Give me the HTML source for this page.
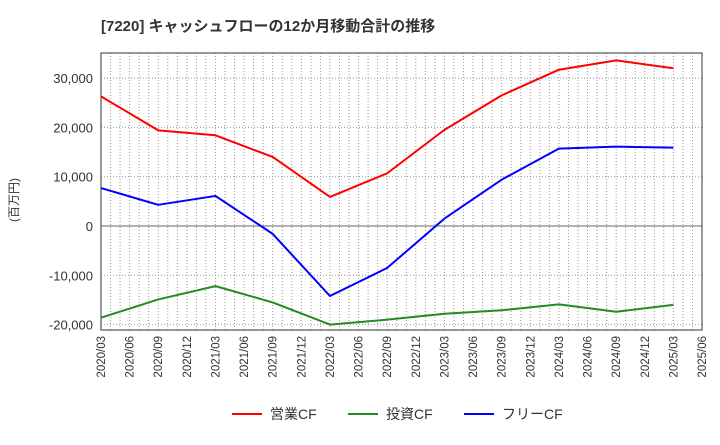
<!DOCTYPE html>
<html><head><meta charset="utf-8"><style>
body{margin:0;background:#fff;font-family:"Liberation Sans","Noto Sans CJK JP",sans-serif;}
</style></head><body>
<svg id="c" width="720" height="440" xmlns="http://www.w3.org/2000/svg">
<text x="101" y="31" font-size="15" font-weight="bold" fill="#333" font-family="Liberation Sans, Noto Sans CJK JP, sans-serif">[7220]  キャッシュフローの12か月移動合計の推移</text>
<text transform="translate(18,200) rotate(-90)" font-size="12" fill="#333" text-anchor="middle" font-family="Liberation Sans, Noto Sans CJK JP, sans-serif">(百万円)</text>
<g id="grid"></g><g id="axes"></g><g id="lines"></g>
<g font-size="14" fill="#333" font-family="Liberation Sans, Noto Sans CJK JP, sans-serif">
<g><line x1="232" y1="414" x2="262" y2="414" stroke="#f00" stroke-width="2"/><text x="270" y="419">営業CF</text></g>
<g><line x1="348" y1="414" x2="378" y2="414" stroke="#228b22" stroke-width="2"/><text x="386" y="419">投資CF</text></g>
<g><line x1="464" y1="414" x2="494" y2="414" stroke="#00f" stroke-width="2"/><text x="502" y="419">フリーCF</text></g>
</g>
</svg>
<script>
const categories=["2020/03","2020/09","2021/03","2021/09","2022/03","2022/09","2023/03","2023/09","2024/03","2024/09","2025/03"];
const operatingCF=[26300,19400,18400,14000,5900,10700,19500,26500,31700,33600,32000];
const investingCF=[-18600,-14900,-12200,-15500,-20000,-19000,-17800,-17100,-15900,-17400,-16000];
const freeCF=[7700,4300,6100,-1600,-14200,-8500,1500,9400,15700,16100,15900];
const xTickLabels=["2020/03","2020/06","2020/09","2020/12","2021/03","2021/06","2021/09","2021/12","2022/03","2022/06","2022/09","2022/12","2023/03","2023/06","2023/09","2023/12","2024/03","2024/06","2024/09","2024/12","2025/03","2025/06"];
const yTicks=[-20000,-10000,0,10000,20000,30000];
const NS="http://www.w3.org/2000/svg";
const L=101,R=702,T=53,B=330;
function qIndex(s){const [y,m]=s.split("/").map(Number);return (y-2020)*12+(m-3);}
function X(s){return L+qIndex(s)*(R-L)/63;}
function Y(v){return 226-v*49.3/10000;}
function mk(tag,attrs,parent){const e=document.createElementNS(NS,tag);for(const k in attrs)e.setAttribute(k,attrs[k]);parent.appendChild(e);return e;}
const grid=document.getElementById("grid"),axes=document.getElementById("axes"),lines=document.getElementById("lines");
for(let m=1;m<63;m++){const x=L+m*(R-L)/63;const g=mk("line",{x1:x,x2:x,y1:T,y2:B,stroke:"#999","stroke-dasharray":"1,2","stroke-width":1},grid);

}
yTicks.forEach(v=>{const y=Y(v);const g=mk("line",{x1:L,x2:R,y1:y,y2:y,stroke:v===0?"#666":"#999","stroke-dasharray":v===0?"":"1,2","stroke-width":1},grid);


const t=mk("text",{x:L-8,y:y+5,"text-anchor":"end","font-size":13,fill:"#333"},axes);t.textContent=v.toLocaleString("en-US");

});
const frame=mk("rect",{x:L,y:T,width:R-L,height:B-T,fill:"none",stroke:"#333","stroke-width":1},axes);


xTickLabels.forEach(s=>{const x=X(s);const t=mk("text",{transform:`translate(${x+4},${B+6}) rotate(-90)`,"text-anchor":"end","font-size":11.5,fill:"#333"},axes);t.textContent=s;

});
[[operatingCF,"#f00","operating-cf-line"],[investingCF,"#228b22","investing-cf-line"],[freeCF,"#00f","free-cf-line"]].forEach(([d,c,n])=>{
const p=mk("polyline",{points:d.map((v,i)=>X(categories[i])+","+Y(v)).join(" "),fill:"none",stroke:c,"stroke-width":2,"stroke-linejoin":"round"},lines);

});
</script>
</body></html>
